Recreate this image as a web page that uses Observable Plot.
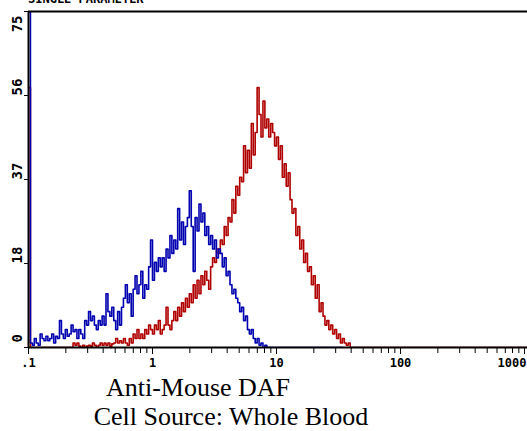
<!DOCTYPE html>
<html>
<head>
<meta charset="utf-8">
<script src="https://cdn.jsdelivr.net/npm/d3@7"></script>
<script src="https://cdn.jsdelivr.net/npm/@observablehq/plot@0.6"></script>
<style>
  html, body { margin: 0; padding: 0; background: #fff; }
</style>
</head>
<body>
<div id="chart"></div>
<script>
// Histogram counts per channel (64 channels per decade, channel 0 = 0.1)
const blueCounts = [
  80,1,0.5,2,1,0.5,3,2,1.5,2.5,
  1.5,2,3,1,2.5,2,6,3,2,4,
  2.5,3,5,3.5,4,2,4,3,2,6,
  5,8,6,7,5,4,6,5,7,5,
  12,8,7,9,6,4,8,5,9,11,
  14,10,12,7,13,16,12,14,17,11,
  14,13,18,24,15,19,17,20,18,20,
  17,22,20,25,21,24,22,31,24,28,
  23,27,29,35,27,17,29,26,32,28,
  30,25,27,23,25,22,24,20,22,21,
  18,20,16,17,14,12,13,11,10,8,
  9,6,7,4,3,4,2,1,2,0.5,
  1,0,0.5,0,0,0,0,0,0,0,
  0,0,0,0,0,0,0,0,0,0,
  0,0,0,0,0,0,0,0,0,0,
  0,0,0,0,0,0,0,0,0,0,
  0,0,0
];
const redCounts = [
  58,0,0,0,0,0,0,0,0,0,
  0,0,0,0,0,0,0,0,0,0,
  0,0,0,1,0.5,1,0.3,0,0.5,0,
  0.3,0.5,0.3,1,0.5,0,0.5,1,0.5,1,
  0.5,1,0.3,0.8,1,2,1,1.5,1,2,
  1,0.5,2,1,3,2,4,2,3,2,
  4,3,5,4,3,5,4,6,3,4,
  5,9,5,4,6,8,6,9,7,10,
  8,11,9,12,10,14,11,15,12,16,
  14,17,15,13,18,20,19,22,21,24,
  23,27,25,29,28,33,30,36,34,38,
  37,45,39,44,40,50,43,48,58,52,
  47,55,49,51,47,50,48,45,47,42,
  45,38,41,36,39,33,30,31,25,27,
  22,24,19,21,17,18,14,16,11,14,
  8,10,7,5,6,4,5,3,4,2,
  3,1,2,1,0.5,1,0,0,0,0,
  0,0,0,0,0,0,0,0,0,0,
  0,0,0,0,0,0,0,0,0,0,
  0,0,0,0,0,0,0,0,0,0,
  0,0,0,0,0,0,0,0,0,0,
  0,0,0,0,0,0,0,0,0,0,
  0,0,0,0,0,0,0,0,0,0,
  0,0,0,0,0,0,0,0,0,0,
  0,0,0,0,0,0,0,0,0,0,
  0,0,0,0,0,0,0,0,0
];
const channelsPerDecade = 64;
const firstValue = 0.1;

const xMajorTicks = [0.1, 1, 10, 100, 1000];
const xMajorLabels = [".1", "1", "10", "100", "1000"];
const xMinorTicks = [0.2,0.3,0.4,0.5,0.6,0.7,0.8,0.9,2,3,4,5,6,7,8,9,20,30,40,50,60,70,80,90,200,300,400,500,600,700,800,900];
const yTicks = [0, 18.75, 37.5, 56.25, 75];
const yLabels = ["0", "18", "37", "56", "75"];

const titleLine1 = "Anti-Mouse DAF";
const titleLine2 = "Cell Source: Whole Blood";
const headerText = "SINGLE PARAMETER";

const toRows = counts => counts.map((v, i) => ({x: firstValue * Math.pow(10, i / channelsPerDecade), y: v}));
const blueRows = toRows(blueCounts);
const redRows = toRows(redCounts);

const BLUE = "#0000b0";
const RED = "#b00000";
const mono = "'DejaVu Sans Mono', monospace";

const plot = Plot.plot({
  width: 527,
  height: 431,
  marginLeft: 28,
  marginRight: 0,
  marginTop: 11,
  marginBottom: 84,
  style: {background: "#fff"},
  x: {type: "log", domain: [0.1, 1057], axis: null},
  y: {domain: [0, 75], axis: null},
  marks: [
    Plot.line(redRows, {x: "x", y: "y", curve: "step-after", stroke: RED, strokeWidth: 1.6, clip: true}),
    Plot.line(blueRows, {x: "x", y: "y", curve: "step-after", stroke: BLUE, strokeWidth: 1.6, clip: true}),
    Plot.ruleY([75], {stroke: "black", strokeWidth: 2}),
    Plot.ruleY([0], {stroke: "black", strokeWidth: 2}),
    Plot.ruleX([0.1], {stroke: "black", strokeWidth: 2}),
    Plot.axisX({ticks: xMajorTicks, tickSize: 7, tickFormat: () => "", label: null, stroke: "black"}),
    Plot.axisX({ticks: xMinorTicks, tickSize: 6, tickFormat: () => "", label: null, stroke: "black"}),
    Plot.axisY({ticks: yTicks, tickSize: 4, tickFormat: () => "", label: null, stroke: "black"}),
    Plot.text(xMajorLabels.slice(0, 4), {x: xMajorTicks.slice(0, 4), frameAnchor: "bottom", dy: 19, text: d => d, fontFamily: mono, fontWeight: "bold", fontSize: 12, fill: "black"}),
    Plot.text(xMajorLabels.slice(4), {x: xMajorTicks.slice(4), frameAnchor: "bottom", dy: 19, dx: 2, textAnchor: "end", text: d => d, fontFamily: mono, fontWeight: "bold", fontSize: 12, fill: "black"}),
    Plot.text(yLabels.slice(1, 4), {y: yTicks.slice(1, 4), frameAnchor: "left", dx: -11, rotate: -90, text: d => d, fontFamily: mono, fontWeight: "bold", fontSize: 14, fill: "black"}),
    Plot.text(yLabels.slice(4), {y: yTicks.slice(4), frameAnchor: "left", dx: -11, dy: 4, rotate: -90, textAnchor: "end", text: d => d, fontFamily: mono, fontWeight: "bold", fontSize: 14, fill: "black"}),
    Plot.text(yLabels.slice(0, 1), {y: yTicks.slice(0, 1), frameAnchor: "left", dx: -11, dy: -5, rotate: -90, textAnchor: "start", text: d => d, fontFamily: mono, fontWeight: "bold", fontSize: 14, fill: "black"})
  ]
});

const svg = d3.select(plot);
svg.append("text")
  .attr("x", 28).attr("y", 2.5).attr("text-anchor", "start")
  .attr("font-family", mono).attr("font-weight", "bold").attr("font-size", 12)
  .attr("fill", "black")
  .text(headerText);
svg.append("text")
  .attr("x", 198).attr("y", 396).attr("text-anchor", "middle")
  .attr("font-family", "'Liberation Serif', serif").attr("font-size", 26)
  .attr("fill", "black")
  .text(titleLine1);
svg.append("text")
  .attr("x", 231).attr("y", 425).attr("text-anchor", "middle")
  .attr("font-family", "'Liberation Serif', serif").attr("font-size", 26)
  .attr("fill", "black")
  .text(titleLine2);

document.getElementById("chart").appendChild(plot);
</script>
</body>
</html>
